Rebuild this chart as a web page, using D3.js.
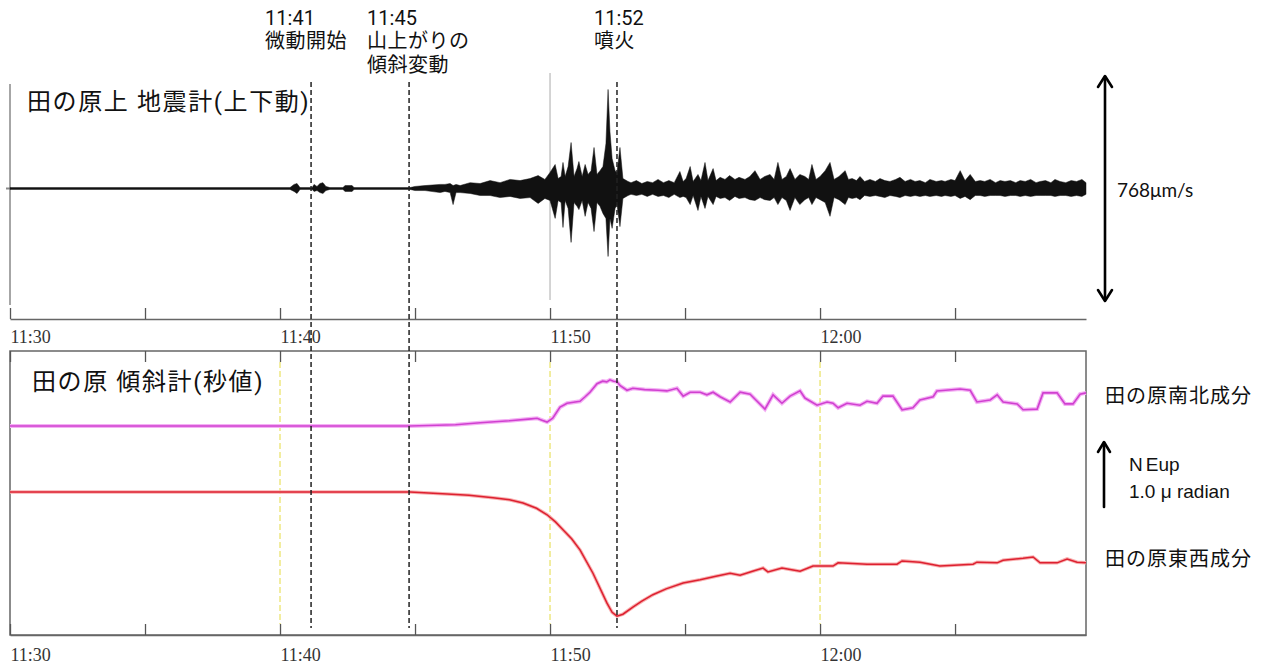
<!DOCTYPE html>
<html><head><meta charset="utf-8">
<script src="https://cdn.jsdelivr.net/npm/d3@7"></script>
<style>html,body{margin:0;padding:0;background:#fff;} svg{display:block}</style>
</head><body><svg id="c" width="1270" height="669"></svg>
<script>
// ---------------- data ----------------
const tickLabels = ["11:30", "11:40", "11:50", "12:00"];
const recordEndMin = 39.85;            // minutes after 11:30 where the record ends

const eventTimes  = ["11:41", "11:45", "11:52"];
const eventLabels = [["微動開始"], ["山上がりの", "傾斜変動"], ["噴火"]];
const eventLineMin = [11.15, 14.78, 22.48]; // minutes after 11:30

const seisTitle = "田の原上 地震計(上下動)";
const tiltTitle = "田の原 傾斜計(秒値)";
const seisScaleLabel = "768μm/s";
const seisScaleValue = 768;            // μm/s, full arrow
const nsLabel = "田の原南北成分";
const ewLabel = "田の原東西成分";
const tiltScaleLines = ["NEup", "1.0 μ radian"];
const tiltScaleValue = 1.0;            // μrad
const gridMin = [10, 20, 30];          // yellow guide lines (min after 11:30)

// seismogram envelope (minutes after 11:30, upward / downward amplitude μm/s)
const seisTime = [0,10.37,10.52,10.63,10.74,11.19,11.26,11.37,11.48,11.59,11.70,11.85,12.33,12.41,12.67,12.74,
  14.81,15.00,15.37,15.93,16.11,16.30,16.41,16.52,16.67,17.04,17.41,17.78,18.15,18.52,18.89,19.26,19.56,19.81,
  20.00,20.19,20.30,20.41,20.48,20.56,20.67,20.78,20.89,21.00,21.07,21.19,21.30,21.41,21.52,21.63,21.74,21.85,
  21.96,22.07,22.15,22.22,22.30,22.41,22.48,22.59,22.70,22.89,
  23.0,23.2,23.4,23.6,23.8,24.0,24.2,24.4,24.6,24.81,24.93,25.04,25.19,25.30,25.48,25.59,25.74,25.85,26.04,26.15,
  26.3,26.48,26.65,26.85,27.0,27.22,27.4,27.59,27.78,27.95,28.15,28.3,28.44,28.59,28.75,28.89,29.07,29.25,29.44,29.58,
  29.70,29.85,30.0,30.19,30.37,30.52,30.7,30.93,31.05,31.19,31.35,31.48,31.65,31.85,32.05,32.22,32.4,32.59,32.8,32.96,
  33.15,33.35,33.52,33.7,33.9,34.07,34.3,34.5,34.63,34.85,35.0,35.19,35.37,35.56,35.75,35.93,36.1,36.3,36.5,36.67,
  36.85,37.05,37.25,37.41,37.6,37.8,38.0,38.15,38.35,38.55,38.7,38.89,39.1,39.3,39.5,39.7,39.85];
const seisUp = [3,3,14,17,3,3,14,7,17,20,7,3,3,10,10,3,
  3,7,10,14,14,17,10,14,10,20,17,27,20,31,27,34,44,31,
  55,82,34,41,89,41,75,157,41,68,92,41,82,48,61,140,48,61,
  75,153,338,194,102,61,55,140,34,24,
  20,27,17,24,20,31,20,27,20,58,24,34,75,24,48,27,89,27,68,27,
  38,31,44,31,38,31,41,61,31,41,48,31,89,31,41,68,31,48,41,31,
  82,31,41,61,89,31,41,61,31,34,27,41,24,31,24,34,27,24,31,38,
  24,31,24,27,20,31,24,27,24,31,27,61,27,48,24,27,24,31,20,27,
  24,27,20,27,24,31,20,24,27,20,31,24,20,27,24,31,20];
const seisDown = [3,3,10,17,3,3,10,7,14,17,7,3,3,10,10,3,
  3,7,7,14,10,14,55,14,14,17,24,24,31,27,34,31,51,34,
  41,102,41,48,133,41,68,184,48,61,72,41,95,48,68,147,48,61,
  85,102,232,102,136,68,55,130,34,24,
  20,24,20,27,20,27,24,31,20,31,27,31,55,24,75,27,68,27,55,27,
  34,31,41,27,34,31,38,41,31,38,41,31,55,31,41,75,31,55,38,31,
  55,31,38,48,95,31,38,55,31,34,31,38,24,27,24,27,31,24,27,31,
  24,27,24,27,24,27,24,27,24,27,24,34,27,38,24,24,27,24,24,24,
  27,24,24,27,24,27,24,24,24,24,27,24,24,27,24,27,20];

// tilt, north-south component (μrad, relative to start)
const nsTime = [0,14.81,16.5,17.41,18.5,19.3,19.52,19.7,19.89,20.1,20.37,20.5,20.63,21.11,21.3,21.48,21.74,21.95,
  22.1,22.22,22.35,22.48,22.6,22.85,23.07,23.5,24.0,24.33,24.70,24.93,25.19,25.56,25.81,26.04,26.30,26.67,27.04,
  27.41,27.96,28.26,28.59,28.89,29.26,29.44,29.89,30.26,30.48,30.67,31.00,31.48,31.74,32.11,32.33,32.70,33.04,
  33.44,33.70,34.19,34.33,35.19,35.56,35.81,36.30,36.56,36.78,37.30,37.52,38.04,38.26,38.78,39.07,39.37,39.63,39.85];
const nsVal = [0,0,0.02,0.05,0.08,0.11,0.12,0.09,0.06,0.12,0.29,0.32,0.35,0.38,0.45,0.52,0.65,0.69,
  0.68,0.71,0.69,0.68,0.62,0.55,0.58,0.56,0.55,0.54,0.58,0.46,0.52,0.52,0.48,0.52,0.45,0.37,0.52,
  0.49,0.26,0.48,0.35,0.46,0.54,0.43,0.32,0.37,0.35,0.28,0.35,0.32,0.38,0.35,0.46,0.46,0.25,
  0.28,0.40,0.45,0.54,0.57,0.55,0.37,0.40,0.48,0.37,0.34,0.25,0.26,0.51,0.51,0.34,0.34,0.49,0.51];

// tilt, east-west component (μrad, relative to start)
const ewTime = [0,14.81,16.19,17.0,17.89,18.5,19.00,19.5,19.89,20.2,20.48,20.8,21.11,21.59,22.11,22.3,22.48,22.7,
  23.07,23.4,23.81,24.3,24.93,25.56,26.1,26.67,27.04,27.50,27.89,28.07,28.59,29.0,29.26,29.74,30.48,30.67,31.74,
  32.85,33.04,33.70,34.44,35.67,35.81,36.56,36.78,37.52,37.89,38.15,38.78,39.15,39.52,39.85];
const ewVal = [0,0,-0.03,-0.05,-0.09,-0.12,-0.17,-0.25,-0.35,-0.46,-0.58,-0.72,-0.89,-1.25,-1.71,-1.85,-1.91,-1.88,
  -1.77,-1.68,-1.58,-1.49,-1.40,-1.35,-1.30,-1.25,-1.28,-1.22,-1.17,-1.23,-1.17,-1.20,-1.22,-1.14,-1.14,-1.09,-1.11,
  -1.11,-1.06,-1.08,-1.14,-1.11,-1.08,-1.09,-1.05,-1.02,-1.00,-1.09,-1.09,-1.03,-1.08,-1.09];

// ---------------- drawing ----------------
const svg = d3.select("#c");
const base = new Date(2014, 8, 27, 11, 30, 0);
const toDate = m => new Date(base.getTime() + m * 60000);
const fmt = d3.timeFormat("%H:%M");

const x = d3.scaleTime().domain([base, toDate(recordEndMin)]).range([10, 1086]);
const ySeis = d3.scaleLinear().domain([-seisScaleValue / 2, seisScaleValue / 2]).range([301, 76]);
const yTilt = d3.scaleLinear().domain([-3.215, 1.154]).range([635, 351]);
const ewOffset = -1.015;

const jp = "Roboto, 'Noto Sans CJK JP', sans-serif";
const ticks = d3.timeMinute.every(5).range(base, toDate(recordEndMin));

// --- top panel frame bits
svg.append("line").attr("x1", 10).attr("x2", 10).attr("y1", 84).attr("y2", 305)
  .attr("stroke", "#888").attr("stroke-width", 1.5);
svg.append("line").attr("x1", 6).attr("x2", 10).attr("y1", ySeis(0)).attr("y2", ySeis(0))
  .attr("stroke", "#888").attr("stroke-width", 2);
svg.append("line").attr("x1", x(toDate(20))).attr("x2", x(toDate(20))).attr("y1", 73).attr("y2", 300)
  .attr("stroke", "#aaa").attr("stroke-width", 1);

// seismogram envelope
const seis = seisTime.map((t, i) => ({ t: toDate(t), up: seisUp[i], dn: seisDown[i] }));
svg.append("path").datum(seis)
  .attr("d", d3.area().x(d => x(d.t)).y0(d => ySeis(-d.dn)).y1(d => ySeis(d.up)))
  .attr("fill", "#111").attr("stroke", "#111").attr("stroke-width", 0.5);

// top axis
const gTop = svg.append("g").attr("transform", "translate(0,319)")
  .call(d3.axisBottom(x).tickValues(ticks).tickSize(-11).tickSizeOuter(0)
    .tickFormat(d => tickLabels.includes(fmt(d)) ? fmt(d) : ""));
function styleAxis(g, yText) {
  g.select(".domain").attr("stroke", "#666").attr("stroke-width", 1.5);
  g.selectAll(".tick line").attr("stroke", "#555").attr("stroke-width", 1.3);
  g.selectAll(".tick text").attr("text-anchor", "start").attr("y", yText).attr("dy", 0)
    .attr("font-family", "'Liberation Serif', serif").attr("font-size", 18).attr("fill", "#333");
}
styleAxis(gTop, 24);

// --- bottom panel
svg.append("rect").attr("x", 10).attr("y", 351).attr("width", 1076).attr("height", 284)
  .attr("fill", "none").attr("stroke", "#666").attr("stroke-width", 1.5);
const gTop2 = svg.append("g").attr("transform", "translate(0,351)")
  .call(d3.axisTop(x).tickValues(ticks).tickSize(-11).tickSizeOuter(0).tickFormat(""));
gTop2.select(".domain").remove();
gTop2.selectAll(".tick line").attr("stroke", "#555").attr("stroke-width", 1.3);
const gBot = svg.append("g").attr("transform", "translate(0,635)")
  .call(d3.axisBottom(x).tickValues(ticks).tickSize(-11).tickSizeOuter(0)
    .tickFormat(d => tickLabels.includes(fmt(d)) ? fmt(d) : ""));
styleAxis(gBot, 26);

// yellow guides
svg.selectAll("line.guide").data(gridMin).join("line").attr("class", "guide")
  .attr("x1", d => x(toDate(d))).attr("x2", d => x(toDate(d)))
  .attr("y1", 362).attr("y2", 624)
  .attr("stroke", "#efe98a").attr("stroke-width", 1.6).attr("stroke-dasharray", "6,3");

// tilt lines
const ns = nsTime.map((t, i) => ({ t: toDate(t), v: nsVal[i] }));
const ew = ewTime.map((t, i) => ({ t: toDate(t), v: ewVal[i] + ewOffset }));
const ln = d3.line().x(d => x(d.t)).y(d => yTilt(d.v));
svg.append("path").datum(ns).attr("d", ln).attr("fill", "none").attr("stroke", "#f4b0f4").attr("stroke-width", 4);
svg.append("path").datum(ns).attr("d", ln).attr("fill", "none").attr("stroke", "#d040d0").attr("stroke-width", 1.6);
svg.append("path").datum(ew).attr("d", ln).attr("fill", "none").attr("stroke", "#f8b0b0").attr("stroke-width", 3.5);
svg.append("path").datum(ew).attr("d", ln).attr("fill", "none").attr("stroke", "#dd2030").attr("stroke-width", 1.5);

// event dashed lines
svg.selectAll("line.ev").data(eventLineMin).join("line").attr("class", "ev")
  .attr("x1", d => x(toDate(d))).attr("x2", d => x(toDate(d)))
  .attr("y1", 82).attr("y2", 628)
  .attr("stroke", "#222").attr("stroke-width", 1.5).attr("stroke-dasharray", "5,3");

// event annotations
const annoDx = [-46, -42, -23];
eventTimes.forEach((tt, i) => {
  const ax = x(toDate(eventLineMin[i])) + annoDx[i];
  const g = svg.append("g").attr("font-family", jp).attr("font-size", 20).attr("fill", "#111");
  g.append("text").attr("x", ax).attr("y", 25).text(tt);
  eventLabels[i].forEach((s, j) => g.append("text").attr("x", ax).attr("y", 48 + j * 24)
    .attr("letter-spacing", 0.5).text(s));
});

// panel titles
svg.append("text").attr("x", 27).attr("y", 110).attr("font-family", jp).attr("font-size", 24)
  .attr("letter-spacing", 1.6).attr("fill", "#111").text(seisTitle);
svg.append("text").attr("x", 32).attr("y", 390).attr("font-family", jp).attr("font-size", 24)
  .attr("letter-spacing", 1.6).attr("fill", "#111").text(tiltTitle);

// seismic scale double arrow
const ax1 = 1105;
const y1 = ySeis(seisScaleValue / 2), y2 = ySeis(-seisScaleValue / 2);
const arr = svg.append("g").attr("stroke", "#000").attr("stroke-width", 2.6).attr("fill", "none")
  .attr("stroke-linecap", "round").attr("stroke-linejoin", "round");
arr.append("line").attr("x1", ax1).attr("x2", ax1).attr("y1", y1 + 1).attr("y2", y2 - 1);
arr.append("path").attr("d", `M${ax1 - 7},${y1 + 11}L${ax1},${y1}L${ax1 + 7},${y1 + 11}`);
arr.append("path").attr("d", `M${ax1 - 7},${y2 - 11}L${ax1},${y2}L${ax1 + 7},${y2 - 11}`);
svg.append("text").attr("x", 1117).attr("y", 197).attr("font-family", "Lato, sans-serif")
  .attr("font-size", 19).attr("fill", "#111").text(seisScaleLabel);

// tilt scale arrow (1 μrad)
const tx = 1104, ty1 = 507, ty0 = ty1 - (yTilt(0) - yTilt(tiltScaleValue));
arr.append("line").attr("x1", tx).attr("x2", tx).attr("y1", ty0 + 1).attr("y2", ty1);
arr.append("path").attr("d", `M${tx - 6},${ty0 + 10}L${tx},${ty0}L${tx + 6},${ty0 + 10}`);
const st = svg.append("g").attr("font-family", "'Liberation Sans', Arial, sans-serif").attr("font-size", 19).attr("fill", "#111");
const t1 = st.append("text").attr("x", 1129).attr("y", 471);
t1.append("tspan").text(tiltScaleLines[0].slice(0, 1));
t1.append("tspan").attr("dx", 3).text(tiltScaleLines[0].slice(1));
st.append("text").attr("x", 1129).attr("y", 498).text(tiltScaleLines[1]);

// series labels
svg.append("text").attr("x", 1105).attr("y", 403).attr("font-family", jp).attr("font-size", 20)
  .attr("letter-spacing", 1).attr("fill", "#111").text(nsLabel);
svg.append("text").attr("x", 1105).attr("y", 566).attr("font-family", jp).attr("font-size", 20)
  .attr("letter-spacing", 1).attr("fill", "#111").text(ewLabel);
</script>
</body></html>
